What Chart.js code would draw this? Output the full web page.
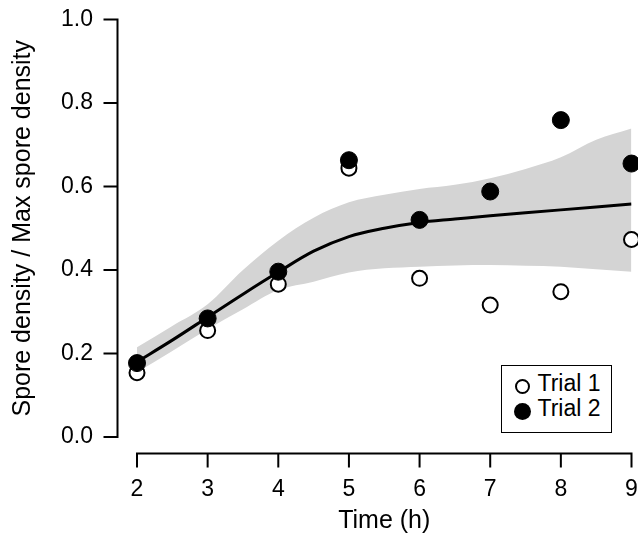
<!DOCTYPE html>
<html>
<head>
<meta charset="utf-8">
<script src="https://cdn.jsdelivr.net/npm/chart.js@4.4.1/dist/chart.umd.min.js"></script>
<style>
html,body{margin:0;padding:0;background:#fff;overflow:hidden;}
#wrap{position:relative;width:638px;height:536px;overflow:hidden;}
#legend{position:absolute;left:501px;top:365px;width:109px;height:66px;border:1.5px solid #000;background:#fff;
  font-family:"Liberation Sans",Arial,sans-serif;font-size:23px;line-height:23px;color:#000;}
#legend .mk{position:absolute;border-radius:50%;box-sizing:border-box;}
#legend .t{position:absolute;white-space:nowrap;}
</style>
</head>
<body>
<div id="wrap">
  <canvas id="c" width="641" height="536"></canvas>
  <div id="legend">
    <span class="mk" style="left:12.5px;top:13px;width:15px;height:15px;border:2px solid #000;background:#fff"></span>
    <span class="t" style="left:35.5px;top:6px">Trial 1</span>
    <span class="mk" style="left:12px;top:37px;width:17px;height:17px;background:#000"></span>
    <span class="t" style="left:35.5px;top:30.5px">Trial 2</span>
  </div>
</div>
<script>
// observed points
const timeH  = [2, 3, 4, 5, 6, 7, 8, 9];
const trial1 = [0.154, 0.255, 0.366, 0.644, 0.380, 0.316, 0.348, 0.473];
const trial2 = [0.177, 0.284, 0.396, 0.663, 0.520, 0.588, 0.759, 0.655];

// fitted curve and its band
const fitX   = [2, 2.5, 3, 3.5, 4, 4.5, 5, 5.5, 6, 6.5, 7, 7.5, 8, 8.5, 9];
const fitY   = [0.180, 0.232, 0.287, 0.342, 0.395, 0.445, 0.480, 0.500, 0.514, 0.522, 0.530, 0.537, 0.544, 0.551, 0.558];
const bandHi = [0.215, 0.266, 0.318, 0.400, 0.470, 0.525, 0.562, 0.580, 0.594, 0.604, 0.620, 0.642, 0.670, 0.712, 0.739];
const bandLo = [0.155, 0.206, 0.258, 0.306, 0.352, 0.372, 0.394, 0.404, 0.408, 0.411, 0.412, 0.410, 0.408, 0.402, 0.396];

const xTicks = [2, 3, 4, 5, 6, 7, 8, 9];
const yTicks = [0, 0.2, 0.4, 0.6, 0.8, 1.0];

const pts = (xs, ys) => xs.map((x, i) => ({x: x, y: ys[i]}));
const FONT = '"Liberation Sans", Arial, sans-serif';

// R-style detached axes
const rAxes = {
  id: 'rAxes',
  afterDraw(chart) {
    const {ctx, chartArea, scales: {x, y}} = chart;
    ctx.save();
    ctx.strokeStyle = '#000';
    ctx.lineWidth = 2;
    ctx.lineCap = 'square';
    const ax = chartArea.left - 19.5;
    const ay = chartArea.bottom + 16.5;
    ctx.beginPath();
    ctx.moveTo(ax, y.getPixelForValue(yTicks[0]));
    ctx.lineTo(ax, y.getPixelForValue(yTicks[yTicks.length-1]));
    yTicks.forEach(v => { const p = y.getPixelForValue(v); ctx.moveTo(ax-13, p); ctx.lineTo(ax, p); });
    ctx.moveTo(x.getPixelForValue(xTicks[0]), ay);
    ctx.lineTo(x.getPixelForValue(xTicks[xTicks.length-1]), ay);
    xTicks.forEach(v => { const p = x.getPixelForValue(v); ctx.moveTo(p, ay); ctx.lineTo(p, ay+13); });
    ctx.stroke();
    ctx.restore();
  }
};

new Chart('c', {
  type: 'line',
  data: {
    datasets: [
      {label:'lo', data: pts(fitX, bandLo), borderWidth:0, pointRadius:0, fill:false, cubicInterpolationMode:'monotone', order:5},
      {label:'hi', data: pts(fitX, bandHi), borderWidth:0, pointRadius:0, fill:'-1', backgroundColor:'#d4d4d4', cubicInterpolationMode:'monotone', order:4},
      {label:'fit', data: pts(fitX, fitY), borderColor:'#000', borderWidth:3, pointRadius:0, fill:false, cubicInterpolationMode:'monotone', order:3},
      {label:'Trial 1', data: pts(timeH, trial1), showLine:false, pointRadius:7.5, pointBorderWidth:2,
        pointBorderColor:'#000', pointBackgroundColor:'#fff', clip:false, order:2},
      {label:'Trial 2', data: pts(timeH, trial2), showLine:false, pointRadius:8.5, pointBorderWidth:1,
        pointBorderColor:'#000', pointBackgroundColor:'#000', clip:false, order:1}
    ]
  },
  options: {
    responsive: false,
    animation: false,
    layout: {padding: {left:0, right:0, top:19.5, bottom:0}},
    plugins: {legend:{display:false}, tooltip:{enabled:false}},
    scales: {
      x: {
        type:'linear', min:2, max:9,
        border:{display:false}, grid:{display:false, drawTicks:false},
        ticks:{stepSize:1, padding:39, color:'#000', font:{family:FONT, size:23}},
        title:{display:true, text:'Time (h)', color:'#000', font:{family:FONT, size:25}, padding:{top:0, bottom:0}},
        afterFit(s) { s.height = 99; s.paddingLeft = 0; s.paddingRight = 0; }
      },
      y: {
        min:0, max:1,
        border:{display:false}, grid:{display:false, drawTicks:false},
        ticks:{stepSize:0.2, padding:44, color:'#000', font:{family:FONT, size:23}, callback: v => v.toFixed(1)},
        title:{display:true, text:'Spore density / Max spore density', color:'#000', font:{family:FONT, size:25}, padding:{top:8, bottom:0}},
        afterFit(s) { s.width = 137; s.paddingTop = 0; s.paddingBottom = 0; }
      }
    }
  },
  plugins: [rAxes]
});
</script>
</body>
</html>
